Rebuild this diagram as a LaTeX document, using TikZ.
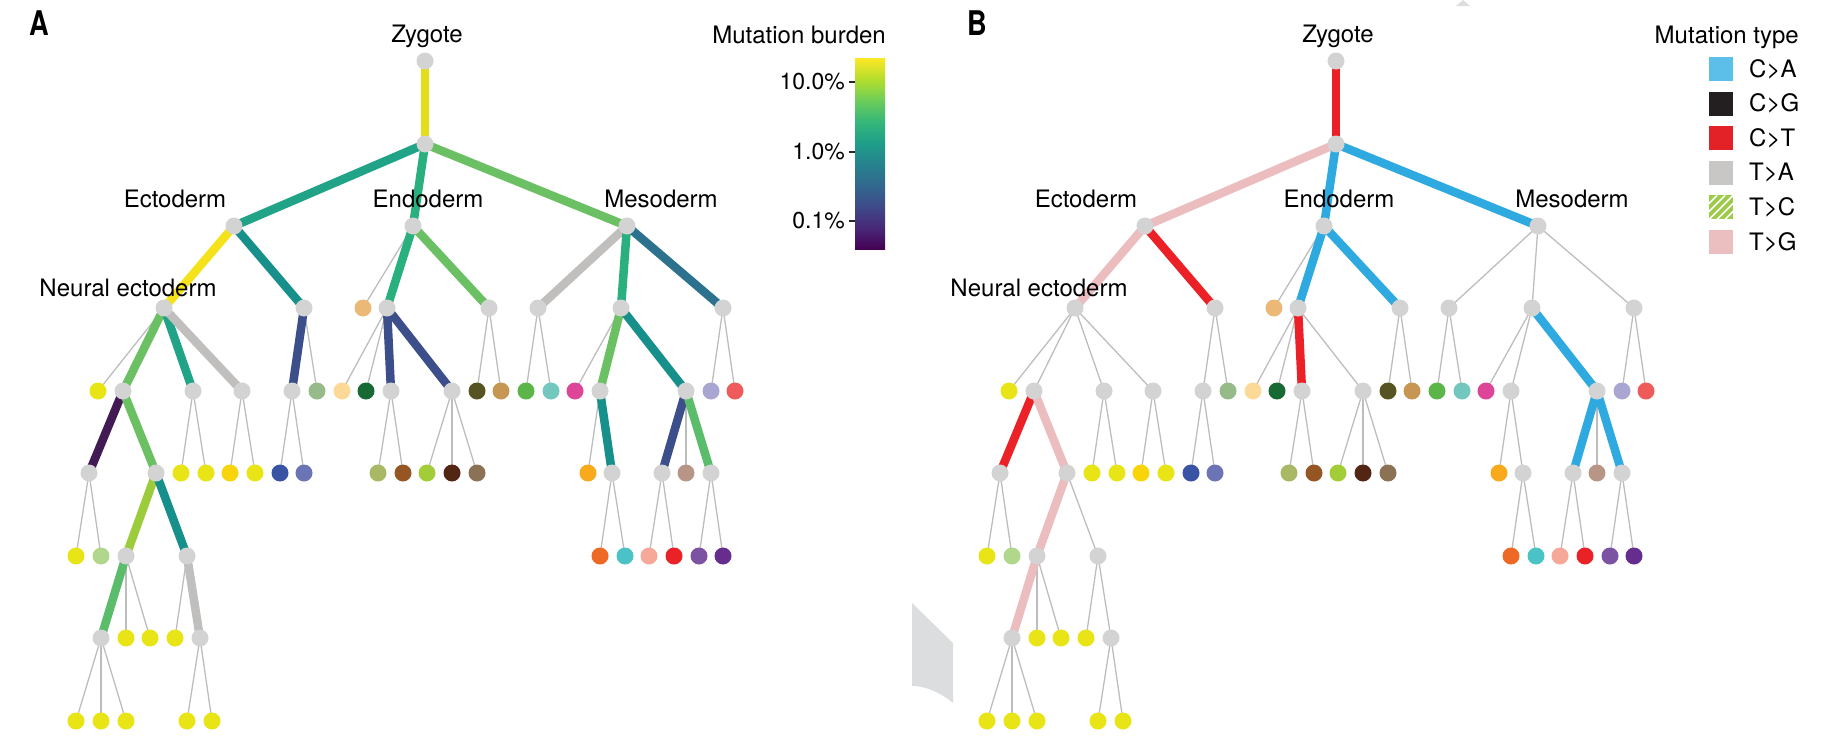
\documentclass[tikz,border=0pt]{standalone}
\usepackage{fontspec}
\setmainfont{TeX Gyre Heros}
\usetikzlibrary{backgrounds}

\definecolor{cellgrey}{HTML}{D3D3D3}
\definecolor{edgegrey}{HTML}{BDBDBD}
\definecolor{scan}{HTML}{DCDDDF}
\definecolor{lfyel}{HTML}{E8E416}
\definecolor{lfsand}{HTML}{EBB877}
\definecolor{lfsage}{HTML}{97BB88}
\definecolor{lfpeach}{HTML}{FDD998}
\definecolor{lfforest}{HTML}{176A34}
\definecolor{lfolive}{HTML}{575423}
\definecolor{lfochre}{HTML}{C79652}
\definecolor{lfgrass}{HTML}{5CB548}
\definecolor{lfaqua}{HTML}{72C8BF}
\definecolor{lfmagenta}{HTML}{DD4598}
\definecolor{lflilac}{HTML}{AAA6D2}
\definecolor{lfcoral}{HTML}{EF5A5A}
\definecolor{lfgold}{HTML}{FAD40A}
\definecolor{lfroyal}{HTML}{3953A5}
\definecolor{lfperi}{HTML}{6B75B5}
\definecolor{lfmoss}{HTML}{A9B865}
\definecolor{lfrust}{HTML}{955624}
\definecolor{lflime}{HTML}{A2CD39}
\definecolor{lfumber}{HTML}{522613}
\definecolor{lftaupe}{HTML}{8B7255}
\definecolor{lfamber}{HTML}{F9A91C}
\definecolor{lfmauve}{HTML}{B79688}
\definecolor{lfmint}{HTML}{B0D78C}
\definecolor{lftang}{HTML}{EE6925}
\definecolor{lfcyan}{HTML}{49C3C6}
\definecolor{lfsalmon}{HTML}{F6A899}
\definecolor{lfscarlet}{HTML}{E92228}
\definecolor{lfviolet}{HTML}{7B53A2}
\definecolor{lfplum}{HTML}{662D8F}
% burden
\definecolor{mZ}{HTML}{E4DF1A}
\definecolor{mNE}{HTML}{F5E21B}
\definecolor{mTeal}{HTML}{20A386}
\definecolor{mGreen}{HTML}{2AB07F}
\definecolor{mLight}{HTML}{6CC064}
\definecolor{mDeep}{HTML}{178F8A}
\definecolor{mNavy}{HTML}{3C4F8A}
\definecolor{mSteel}{HTML}{2C718E}
\definecolor{mGrey}{HTML}{C0BFBE}
\definecolor{mPurp}{HTML}{421A54}
\definecolor{mYG}{HTML}{9CCB3C}
\definecolor{mGtwo}{HTML}{5BBC6B}
% type
\definecolor{tRed}{HTML}{EC2128}
\definecolor{tPink}{HTML}{EBBDBF}
\definecolor{tBlue}{HTML}{2EAAE0}
\definecolor{kCA}{HTML}{5BBFEA}
\definecolor{kCG}{HTML}{231F20}
\definecolor{kCT}{HTML}{E32227}
\definecolor{kTA}{HTML}{C8C7C5}
\definecolor{kTC}{HTML}{9CCB4A}
\definecolor{kTG}{HTML}{EBBFC0}
\definecolor{vA}{HTML}{440154}
\definecolor{vB}{HTML}{482878}
\definecolor{vC}{HTML}{3E4A89}
\definecolor{vD}{HTML}{31688E}
\definecolor{vE}{HTML}{26828E}
\definecolor{vF}{HTML}{1F9E89}
\definecolor{vG}{HTML}{35B779}
\definecolor{vH}{HTML}{6DCD59}
\definecolor{vI}{HTML}{B4DE2C}
\definecolor{vJ}{HTML}{FDE725}

\pgfdeclareverticalshading{viridis}{100bp}{color(0bp)=(vA); color(25bp)=(vA);
  color(30.56bp)=(vB); color(36.11bp)=(vC); color(41.67bp)=(vD); color(47.22bp)=(vE);
  color(52.78bp)=(vF); color(58.33bp)=(vG); color(63.89bp)=(vH); color(69.44bp)=(vI);
  color(75bp)=(vJ); color(100bp)=(vJ)}

\tikzset{
  cell/.style={circle, fill=cellgrey, minimum size=17pt, inner sep=0pt},
  leaf/.style={cell, fill=#1},
  twig/.style={draw=edgegrey, line width=1.3pt},
  mut/.style={draw=#1, line width=8.5pt},
  lbl/.style={anchor=base, inner sep=0pt, font=\fontsize{24}{28}\selectfont},
  panel/.style={inner sep=0pt, font=\fontsize{34}{36}\selectfont\bfseries},
  swatch/.style={minimum size=24pt, inner sep=0pt},
  plain/.style={},
  hatch/.style={path picture={
    \foreach \k in {-16,-8,0,8,16}
      \draw[white, line width=1.6pt] ([xshift=\k pt]path picture bounding box.south west)
        -- ([xshift=\k pt]path picture bounding box.north east);}},
}

\newcommand{\lineage}[1]{%
  \node[lbl] (#1tz) at (427,42) {Zygote};
  \node[lbl] (#1tec) at (175,207) {Ectoderm};
  \node[lbl] (#1ten) at (428,207) {Endoderm};
  \node[lbl] (#1tme) at (661,207) {Mesoderm};
  \node[lbl] (#1tne) at (128,296) {Neural ectoderm};

  \node[cell] (#1z) at (425,61) {};
  \node[cell] (#1s) at (425,144) {};
  \node[cell] (#1ec) at (234,226) {};
  \node[cell] (#1en) at (413,226) {};
  \node[cell] (#1me) at (627,226) {};

  \node[cell] (#1ne) at (164,308) {};
  \node[cell] (#1ek) at (304,308) {};
  \node[leaf=lfsand] (#1enL) at (363,308) {};
  \node[cell] (#1ea) at (387,308) {};
  \node[cell] (#1eb) at (489,308) {};
  \node[cell] (#1ma) at (538,308) {};
  \node[cell] (#1mb) at (621,308) {};
  \node[cell] (#1mc) at (723,308) {};

  \node[leaf=lfyel] (#1q98) at (98,391) {};
  \node[cell] (#1na) at (123,391) {};
  \node[cell] (#1nb) at (193,391) {};
  \node[cell] (#1nc) at (242,391) {};
  \node[cell] (#1ka) at (292,391) {};
  \node[leaf=lfsage] (#1q317) at (317,391) {};
  \node[leaf=lfpeach] (#1q342) at (342,391) {};
  \node[leaf=lfforest] (#1q366) at (366,391) {};
  \node[cell] (#1eaa) at (391,391) {};
  \node[cell] (#1eab) at (452,391) {};
  \node[leaf=lfolive] (#1q477) at (477,391) {};
  \node[leaf=lfochre] (#1q501) at (501,391) {};
  \node[leaf=lfgrass] (#1q526) at (526,391) {};
  \node[leaf=lfaqua] (#1q551) at (551,391) {};
  \node[leaf=lfmagenta] (#1q575) at (575,391) {};
  \node[cell] (#1mba) at (600,391) {};
  \node[cell] (#1mbb) at (686,391) {};
  \node[leaf=lflilac] (#1q711) at (711,391) {};
  \node[leaf=lfcoral] (#1q735) at (735,391) {};

  \node[cell] (#1naa) at (89,473) {};
  \node[cell] (#1nab) at (156,473) {};
  \node[leaf=lfyel] (#1r181) at (181,473) {};
  \node[leaf=lfyel] (#1r206) at (206,473) {};
  \node[leaf=lfgold] (#1r230) at (230,473) {};
  \node[leaf=lfyel] (#1r255) at (255,473) {};
  \node[leaf=lfroyal] (#1r280) at (280,473) {};
  \node[leaf=lfperi] (#1r304) at (304,473) {};
  \node[leaf=lfmoss] (#1r378) at (378,473) {};
  \node[leaf=lfrust] (#1r403) at (403,473) {};
  \node[leaf=lflime] (#1r427) at (427,473) {};
  \node[leaf=lfumber] (#1r452) at (452,473) {};
  \node[leaf=lftaupe] (#1r477) at (477,473) {};
  \node[leaf=lfamber] (#1r588) at (588,473) {};
  \node[cell] (#1mbaa) at (612,473) {};
  \node[cell] (#1mbba) at (662,473) {};
  \node[leaf=lfmauve] (#1r686) at (686,473) {};
  \node[cell] (#1mbbb) at (711,473) {};

  \node[leaf=lfyel] (#1s76) at (76,556) {};
  \node[leaf=lfmint] (#1s101) at (101,556) {};
  \node[cell] (#1naba) at (126,556) {};
  \node[cell] (#1nabb) at (187,556) {};
  \node[leaf=lftang] (#1s600) at (600,556) {};
  \node[leaf=lfcyan] (#1s625) at (625,556) {};
  \node[leaf=lfsalmon] (#1s649) at (649,556) {};
  \node[leaf=lfscarlet] (#1s674) at (674,556) {};
  \node[leaf=lfviolet] (#1s699) at (699,556) {};
  \node[leaf=lfplum] (#1s723) at (723,556) {};

  \node[cell] (#1nabaa) at (101,638) {};
  \node[leaf=lfyel] (#1t126) at (126,638) {};
  \node[leaf=lfyel] (#1t150) at (150,638) {};
  \node[leaf=lfyel] (#1t175) at (175,638) {};
  \node[cell] (#1nabba) at (200,638) {};

  \node[leaf=lfyel] (#1u76) at (76,721) {};
  \node[leaf=lfyel] (#1u101) at (101,721) {};
  \node[leaf=lfyel] (#1u126) at (126,721) {};
  \node[leaf=lfyel] (#1u187) at (187,721) {};
  \node[leaf=lfyel] (#1u212) at (212,721) {};

  \begin{scope}[on background layer]
  \foreach \u/\v in {z/s, s/ec, s/en, s/me, ec/ne, ec/ek, en/enL, en/ea, en/eb,
      me/ma, me/mb, me/mc, ne/q98, ne/na, ne/nb, ne/nc, ek/ka, ek/q317,
      ea/q342, ea/q366, ea/eaa, ea/eab, eb/q477, eb/q501, ma/q526, ma/q551,
      mb/q575, mb/mba, mb/mbb, mc/q711, mc/q735, na/naa, na/nab, nb/r181, nb/r206,
      nc/r230, nc/r255, ka/r280, ka/r304, eaa/r378, eaa/r403, eab/r427, eab/r452,
      eab/r477, mba/r588, mba/mbaa, mbb/mbba, mbb/r686, mbb/mbbb, naa/s76, naa/s101,
      nab/naba, nab/nabb, mbaa/s600, mbaa/s625, mbba/s649, mbba/s674, mbbb/s699,
      mbbb/s723, naba/nabaa, naba/t126, naba/t150, nabb/t175, nabb/nabba,
      nabaa/u76, nabaa/u101, nabaa/u126, nabba/u187, nabba/u212}
    \draw[twig] (#1\u.center) -- (#1\v.center);
  \end{scope}
}

\begin{document}
\begin{tikzpicture}[x=1pt, y=-1pt]
\useasboundingbox (0,0) rectangle (1826,744);

\node[panel] (pA) at (39,23) {\scalebox{0.8}[1]{A}};
\node[panel] (pB) at (977,23) {\scalebox{0.8}[1]{B}};

\lineage{A}
\begin{scope}[xshift=911pt]
\lineage{B}
\end{scope}

\begin{scope}[on background layer]
\foreach \u/\v/\c in {z/s/mZ, s/ec/mTeal, s/en/mGreen, s/me/mLight, ec/ne/mNE,
    ec/ek/mDeep, ne/na/mLight, ne/nb/mTeal, ne/nc/mGrey, ek/ka/mNavy,
    en/ea/mGreen, en/eb/mLight, ea/eaa/mNavy, ea/eab/mNavy, me/ma/mGrey,
    me/mb/mGreen, me/mc/mSteel, mb/mba/mLight, mb/mbb/mDeep, na/naa/mPurp,
    na/nab/mLight, nab/naba/mYG, nab/nabb/mDeep, naba/nabaa/mGtwo,
    nabb/nabba/mGrey, mba/mbaa/mDeep, mbb/mbba/mNavy, mbb/mbbb/mGtwo}
  \draw[mut=\c] (A\u.center) -- (A\v.center);
\foreach \u/\v/\c in {z/s/tRed, s/ec/tPink, s/en/tBlue, s/me/tBlue, ec/ne/tPink,
    ec/ek/tRed, en/ea/tBlue, en/eb/tBlue, ea/eaa/tRed, mb/mbb/tBlue,
    mbb/mbba/tBlue, mbb/mbbb/tBlue, na/naa/tRed, na/nab/tPink,
    nab/naba/tPink, naba/nabaa/tPink}
  \draw[mut=\c] (B\u.center) -- (B\v.center);
\end{scope}

% burden scale
\node[lbl, anchor=base east] (tburden) at (886,43) {Mutation burden};
\shade[shading=viridis] (855,58) rectangle (885,249);
\foreach \y/\t [count=\i] in {82/10.0\%, 152/1.0\%, 221/0.1\%} {
  \draw[line width=2.2pt, black!85] (849,\y) -- (855,\y);
  \node[inner sep=0pt, anchor=east, font=\fontsize{23}{27}\selectfont] (tick\i) at (845,\y) {\t};
}

% type key
\node[lbl, anchor=base east] (ttype) at (1799,43) {Mutation type};
\foreach \c/\t/\s [count=\i] in {kCA/C>A/plain, kCG/C>G/plain, kCT/C>T/plain,
    kTA/T>A/plain, kTC/T>C/hatch, kTG/T>G/plain} {
  \node[swatch, fill=\c, \s] (key\i) at (1721,34.6*\i+34.4) {};
  \node[inner sep=0pt, anchor=west, font=\fontsize{24}{28}\selectfont] (kl\i) at (1749,34.6*\i+34.4) {\t};
}

\fill[scan] (912,603) -- (953,643) -- (953,703) .. controls (940,692) and (925,686) .. (912,686) -- cycle;
\fill[scan] (1456,6) -- (1463,0) -- (1470,6) -- cycle;
\end{tikzpicture}
\end{document}
